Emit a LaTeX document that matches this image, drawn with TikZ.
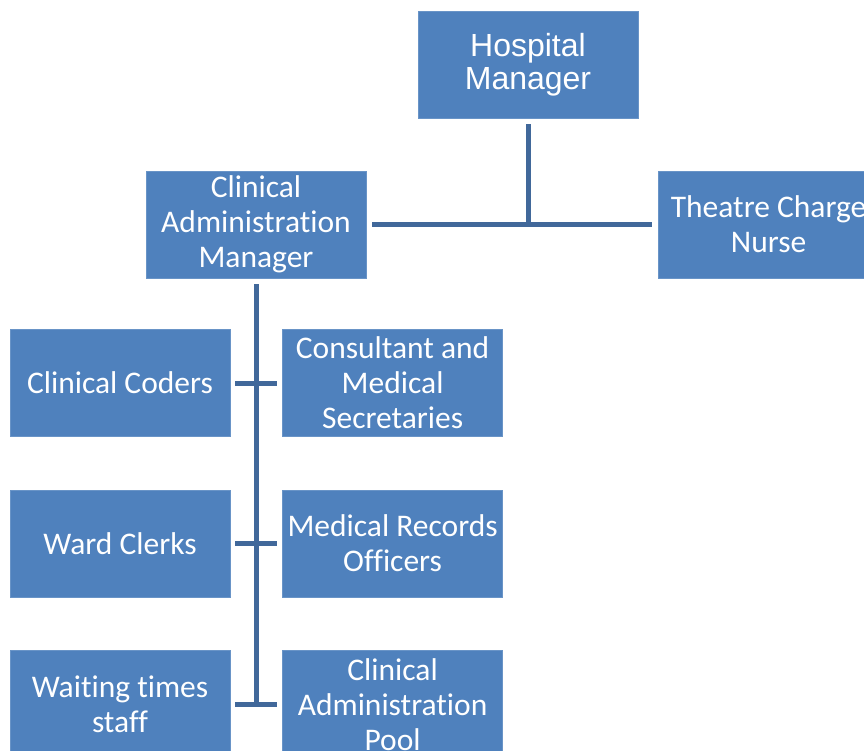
\documentclass[tikz,border=0pt]{standalone}
\usepackage{fontspec}
\setmainfont{Carlito}[Ligatures=NoCommon]
\newfontfamily\headfont{Liberation Sans}
\usetikzlibrary{positioning}

\definecolor{boxblue}{RGB}{79,129,189}
\definecolor{linkblue}{RGB}{65,104,154}

\begin{document}
\begin{tikzpicture}[
  x=1pt,
  y=-1pt,
  node distance=53pt and 52pt,
  block/.style={
    fill=boxblue,
    draw=boxblue!85!white,
    line width=0.6pt,
    text=white,
    align=center,
    inner sep=0pt,
    minimum width=220pt,
    minimum height=107pt,
    font=\fontsize{31.5}{35}\selectfont
  },
  head/.style={
    block,
    font=\headfont\fontsize{32}{33}\selectfont
  },
  link/.style={
    draw=linkblue,
    line width=5pt
  }
]

\clip (0,0) rectangle (864,751);
\useasboundingbox (0,0) rectangle (864,751);

\node[head] (hm) at (528,64.5) {Hospital\\Manager};
\node[block] (cam) at (256,224.5) {Clinical\\Administration\\Manager};
\node[block,right=292pt of cam] (theatre) {Theatre Charge\\Nurse};

\node[block] (coders) at (120,383) {Clinical Coders};
\node[block,right=of coders] (secr)
  {Consultant and\\Medical\\Secretaries};
\node[block,below=of coders] (clerks) {Ward Clerks};
\node[block,right=of clerks] (records)
  {Medical Records\\Officers};
\node[block,below=of clerks] (waiting) {Waiting times\\staff};
\node[block,right=of waiting] (pool)
  {Clinical\\Administration\\Pool};

\coordinate (trunkend) at (cam.south |- waiting.east);

\draw[link,shorten <=6pt] (hm.south) -- (hm.south |- cam.east);
\draw[link,shorten <=6pt,shorten >=6pt] (cam.east) -- (theatre.west);
\draw[link,shorten <=6pt,shorten >=-2.5pt] (cam.south) -- (trunkend);
\draw[link,shorten <=5pt,shorten >=5pt] (coders.east) -- (secr.west);
\draw[link,shorten <=5pt,shorten >=5pt] (clerks.east) -- (records.west);
\draw[link,shorten <=5pt,shorten >=5pt] (waiting.east) -- (pool.west);

\end{tikzpicture}
\end{document}
